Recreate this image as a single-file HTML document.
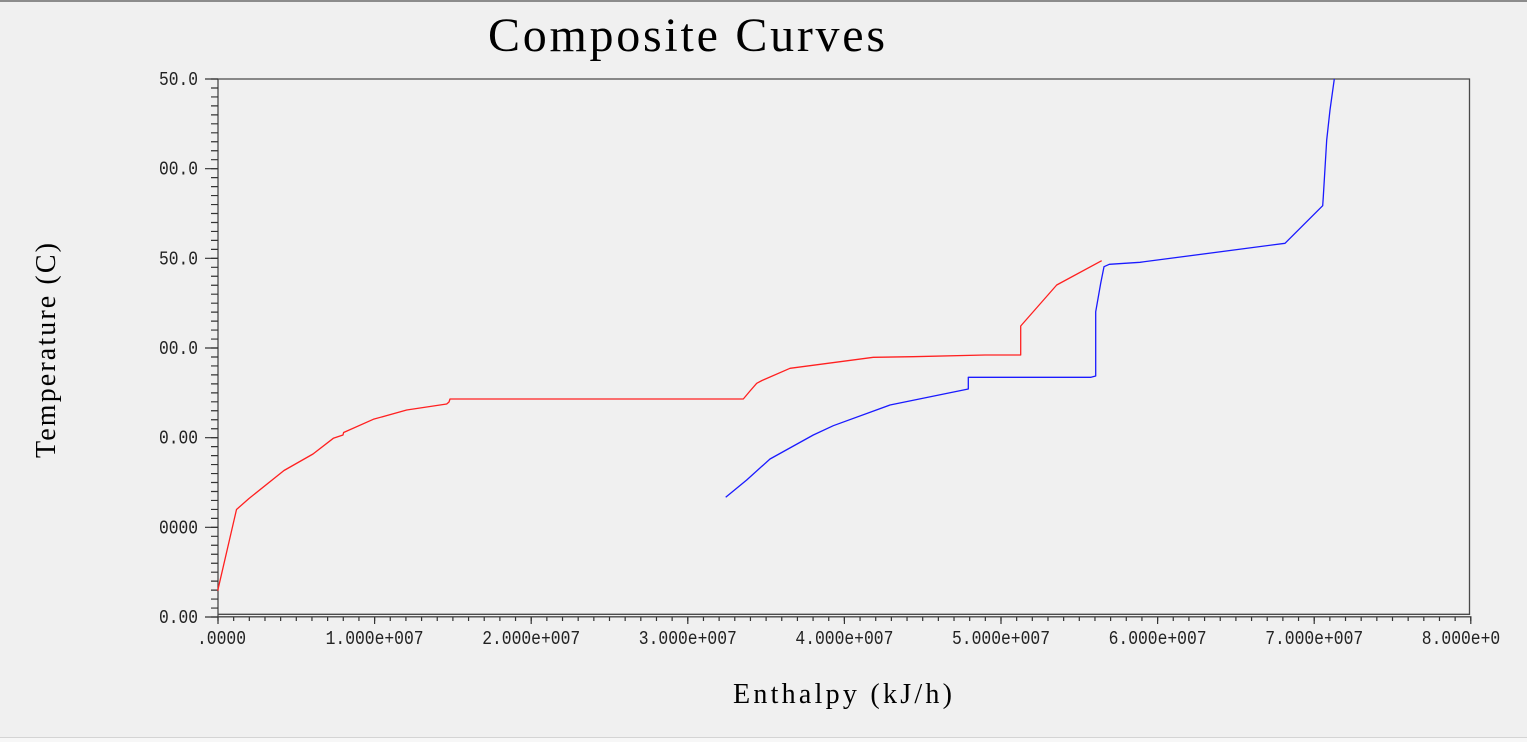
<!DOCTYPE html>
<html>
<head>
<meta charset="utf-8">
<style>
html,body{margin:0;padding:0;background:#f0f0f0;}
svg{display:block;}
</style>
</head>
<body>
<svg width="1527" height="742" viewBox="0 0 1527 742" xmlns="http://www.w3.org/2000/svg">
<rect x="0" y="0" width="1527" height="742" fill="#f0f0f0"/>
<rect x="0" y="0" width="1527" height="2" fill="#8c8c8c"/>
<rect x="0" y="737" width="1527" height="1" fill="#d4d4d4"/>
<rect x="0" y="738" width="1527" height="4" fill="#f7f7f7"/>

<text x="488" y="51" font-family="Liberation Serif, serif" font-size="48" fill="#000" textLength="397" lengthAdjust="spacing">Composite Curves</text>
<text x="733" y="703" font-family="Liberation Serif, serif" font-size="28" fill="#000" textLength="219" lengthAdjust="spacing">Enthalpy (kJ/h)</text>
<text transform="translate(55,458) rotate(-90)" font-family="Liberation Serif, serif" font-size="28" fill="#000" textLength="215" lengthAdjust="spacing">Temperature (C)</text>

<g stroke="#4a4a4a" stroke-width="1.3" fill="none">
<path d="M218 79 H1469.5 V614.3 H218"/>
<path d="M218 616.8 H1471.5"/>
<path d="M218 79 V617.5"/>
</g>

<!-- Y minor ticks -->
<line x1="214.5" y1="78.4" x2="214.5" y2="617.6" stroke="#333" stroke-width="7" stroke-dasharray="1.2 7.767"/>
<!-- Y major ticks -->
<path d="M205 79H218M205 168.67H218M205 258.33H218M205 348H218M205 437.67H218M205 527.33H218M205 617H218" stroke="#333" stroke-width="1.2"/>

<g font-family="Liberation Mono, monospace" font-size="19" fill="#222" text-anchor="end">
<text x="198" y="85" textLength="39" lengthAdjust="spacingAndGlyphs">50.0</text>
<text x="198" y="174.7" textLength="39" lengthAdjust="spacingAndGlyphs">00.0</text>
<text x="198" y="264.3" textLength="39" lengthAdjust="spacingAndGlyphs">50.0</text>
<text x="198" y="354" textLength="39" lengthAdjust="spacingAndGlyphs">00.0</text>
<text x="198" y="443.7" textLength="39" lengthAdjust="spacingAndGlyphs">0.00</text>
<text x="198" y="533.3" textLength="39" lengthAdjust="spacingAndGlyphs">0000</text>
<text x="198" y="623" textLength="39" lengthAdjust="spacingAndGlyphs">0.00</text>
</g>

<!-- X minor ticks -->
<line x1="217.4" y1="619" x2="1471.4" y2="619" stroke="#333" stroke-width="4" stroke-dasharray="1.2 14.46"/>
<!-- X major ticks -->
<path d="M218 617V624M374.6 617V624M531.2 617V624M687.8 617V624M844.4 617V624M1001 617V624M1157.6 617V624M1314.2 617V624M1470.8 617V624" stroke="#333" stroke-width="1.2"/>

<g font-family="Liberation Mono, monospace" font-size="19" fill="#222">
<text x="197" y="644" textLength="49" lengthAdjust="spacingAndGlyphs">.0000</text>
<text x="325.6" y="644" textLength="98" lengthAdjust="spacingAndGlyphs">1.000e+007</text>
<text x="482.2" y="644" textLength="98" lengthAdjust="spacingAndGlyphs">2.000e+007</text>
<text x="638.8" y="644" textLength="98" lengthAdjust="spacingAndGlyphs">3.000e+007</text>
<text x="795.4" y="644" textLength="98" lengthAdjust="spacingAndGlyphs">4.000e+007</text>
<text x="952" y="644" textLength="98" lengthAdjust="spacingAndGlyphs">5.000e+007</text>
<text x="1108.6" y="644" textLength="98" lengthAdjust="spacingAndGlyphs">6.000e+007</text>
<text x="1265.2" y="644" textLength="98" lengthAdjust="spacingAndGlyphs">7.000e+007</text>
<text x="1421.8" y="644" textLength="78.4" lengthAdjust="spacingAndGlyphs">8.000e+0</text>
</g>

<polyline fill="none" stroke="#ff2020" stroke-width="1.3" stroke-linejoin="round" points="217.7,590.7 236.5,509.5 249,498.5 284,470.5 313,454 333.3,438.3 343,435 343.6,432.5 373.3,419.3 406.7,410 446.7,404 449,402 450,399 743.3,399 750,391 756.7,383.3 762,380.5 790,368.3 873.3,357.3 913,356.7 985,355 1020.7,355 1020.7,326 1056.7,285 1101.7,260.7"/>

<polyline fill="none" stroke="#1a1aff" stroke-width="1.3" stroke-linejoin="round" points="725.7,497.3 746.7,480 770,459 813.3,435 833.3,425.7 890,405 968.3,389 968.3,377.3 1091,377.3 1095.7,376 1095.7,311.7 1100.7,283.3 1104,266.7 1109.3,264.3 1140,262.3 1285,243.3 1322.7,205.7 1323.3,196.7 1326.7,140 1330,110 1334.3,79"/>
</svg>
</body>
</html>
